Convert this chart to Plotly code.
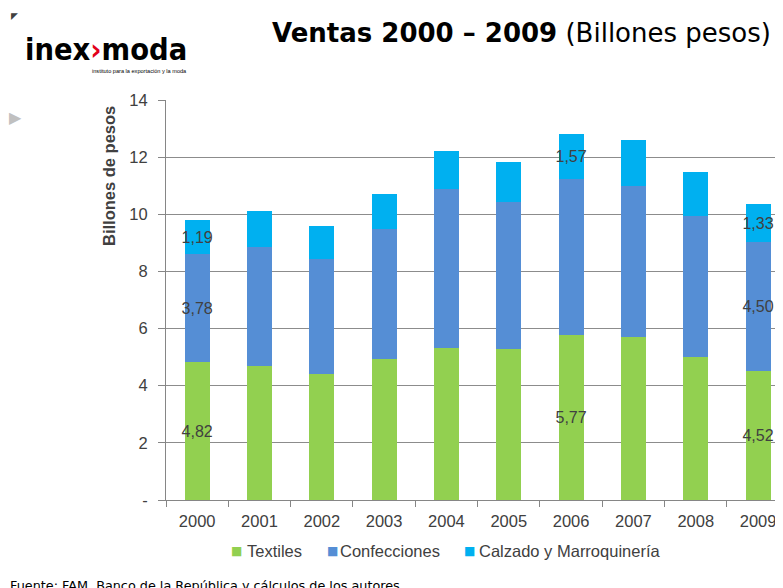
import plotly.graph_objects as go

years = ["2000", "2001", "2002", "2003", "2004", "2005", "2006", "2007", "2008", "2009"]
textiles = [4.82, 4.69, 4.41, 4.95, 5.31, 5.29, 5.77, 5.70, 5.02, 4.52]
confecciones = [3.78, 4.17, 4.03, 4.55, 5.58, 5.15, 5.48, 5.28, 4.92, 4.50]
calzado = [1.19, 1.26, 1.14, 1.22, 1.32, 1.38, 1.57, 1.63, 1.54, 1.33]

# which bars carry a data label (per series)
label_textiles = ["2000", "2006", "2009"]
label_confecciones = ["2000", "2009"]
label_calzado = ["2000", "2006", "2009"]

y_ticks = [0, 2, 4, 6, 8, 10, 12, 14]
y_ticktext = ["-", "2", "4", "6", "8", "10", "12", "14"]

series_names = ["Textiles", "Confecciones", "Calzado y Marroquinería"]
series_colors = ["#92D050", "#558ED5", "#00B0F0"]
series_values = [textiles, confecciones, calzado]
series_labels = [label_textiles, label_confecciones, label_calzado]


def fmt(v):
    return f"{v:.2f}".replace(".", ",")


# page body has an 8px margin; the figure is sized to end at the window edge
OFF = 8
W, H = 783 - OFF, 588 - OFF
ML, MR, MT, MB = 166 - OFF, 0, 100 - OFF, 88
PW = W - ML - MR
PH = H - MT - MB


def px(x):
    return (x - OFF - ML) / PW


def py(y):
    return (MT + PH - (y - OFF)) / PH


FONT = "Liberation Sans"
TXT = "#404040"

fig = go.Figure()
for name, vals, labs, color in zip(series_names, series_values, series_labels, series_colors):
    fig.add_trace(go.Bar(
        x=years, y=vals, name=name,
        marker=dict(color=color, line=dict(width=0)),
        text=[fmt(v) if yr in labs else "" for yr, v in zip(years, vals)],
        textposition="inside", insidetextanchor="middle",
        textangle=0, constraintext="none",
        textfont=dict(family=FONT, size=16, color=TXT),
        hoverinfo="skip", showlegend=False,
    ))

annotations = [
    dict(x=px(270), y=py(33), xref="paper", yref="paper", xanchor="left", yanchor="middle",
         text="<b>Ventas 2000 – 2009</b> (Billones pesos)", showarrow=False,
         font=dict(family="DejaVu Sans", size=26, color="#000000")),
    dict(x=px(109), y=py(176), xref="paper", yref="paper", xanchor="center", yanchor="middle",
         text="<b>Billones de pesos</b>", textangle=-90, showarrow=False,
         font=dict(family=FONT, size=16.5, color=TXT)),
    dict(x=px(23), y=py(49), xref="paper", yref="paper", xanchor="left", yanchor="middle",
         text="<b>inex</b><span style='color:#E2001A'><b>›</b></span><b>moda</b>", showarrow=False,
         font=dict(family="DejaVu Sans Condensed", size=30.5, color="#000000")),
    dict(x=px(90), y=py(71), xref="paper", yref="paper", xanchor="left", yanchor="middle",
         text="instituto para la exportación y la moda", showarrow=False,
         font=dict(family=FONT, size=5.6, color="#000000")),
    dict(x=px(14), y=py(16), xref="paper", yref="paper", xanchor="center", yanchor="middle",
         text="◤", showarrow=False,
         font=dict(family="DejaVu Sans", size=9, color="#404040")),
    dict(x=px(15), y=py(117), xref="paper", yref="paper", xanchor="center", yanchor="middle",
         text="▶", showarrow=False,
         font=dict(family="DejaVu Sans", size=16, color="#C0C0C0")),
    dict(x=px(8), y=py(576), xref="paper", yref="paper", xanchor="left", yanchor="top",
         text="Fuente: FAM, Banco de la República y cálculos de los autores", showarrow=False,
         font=dict(family="DejaVu Sans", size=12.8, color="#000000")),
]

# legend drawn as text entries (colour square + series name)
legend_square_x = [236, 332, 469]
legend_text_x = [245, 338, 477]
for name, color, sx, tx in zip(series_names, series_colors, legend_square_x, legend_text_x):
    annotations.append(dict(x=px(sx), y=py(551), xref="paper", yref="paper",
                            xanchor="center", yanchor="middle", text="■", showarrow=False,
                            font=dict(family="DejaVu Sans", size=12, color=color)))
    annotations.append(dict(x=px(tx), y=py(551), xref="paper", yref="paper",
                            xanchor="left", yanchor="middle", text=name, showarrow=False,
                            font=dict(family=FONT, size=16.5, color=TXT)))

fig.update_layout(
    width=W, height=H,
    margin=dict(l=ML, r=MR, t=MT, b=MB, pad=0, autoexpand=False),
    barmode="stack", bargap=0.6,
    paper_bgcolor="white", plot_bgcolor="white",
    font=dict(family=FONT, size=16.5, color=TXT),
    showlegend=False,
    annotations=annotations,
)
fig.update_xaxes(
    type="category", range=[-0.5, 9.4],
    showline=True, linecolor="#868686", linewidth=1,
    ticks="outside", tickson="boundaries", ticklen=6, tickcolor="#868686",
    ticklabelstandoff=6,
    tickfont=dict(family=FONT, size=16.5, color=TXT),
    showgrid=False,
)
fig.update_yaxes(
    range=[0, 14], tickvals=y_ticks, ticktext=y_ticktext,
    showline=True, linecolor="#868686", linewidth=1,
    ticks="outside", ticklen=7, tickcolor="#868686",
    ticklabelstandoff=7,
    showgrid=True, gridcolor="#8C8C8C", gridwidth=1,
    zeroline=False,
    tickfont=dict(family=FONT, size=16.5, color=TXT),
)

fig.write_html("out.html")
